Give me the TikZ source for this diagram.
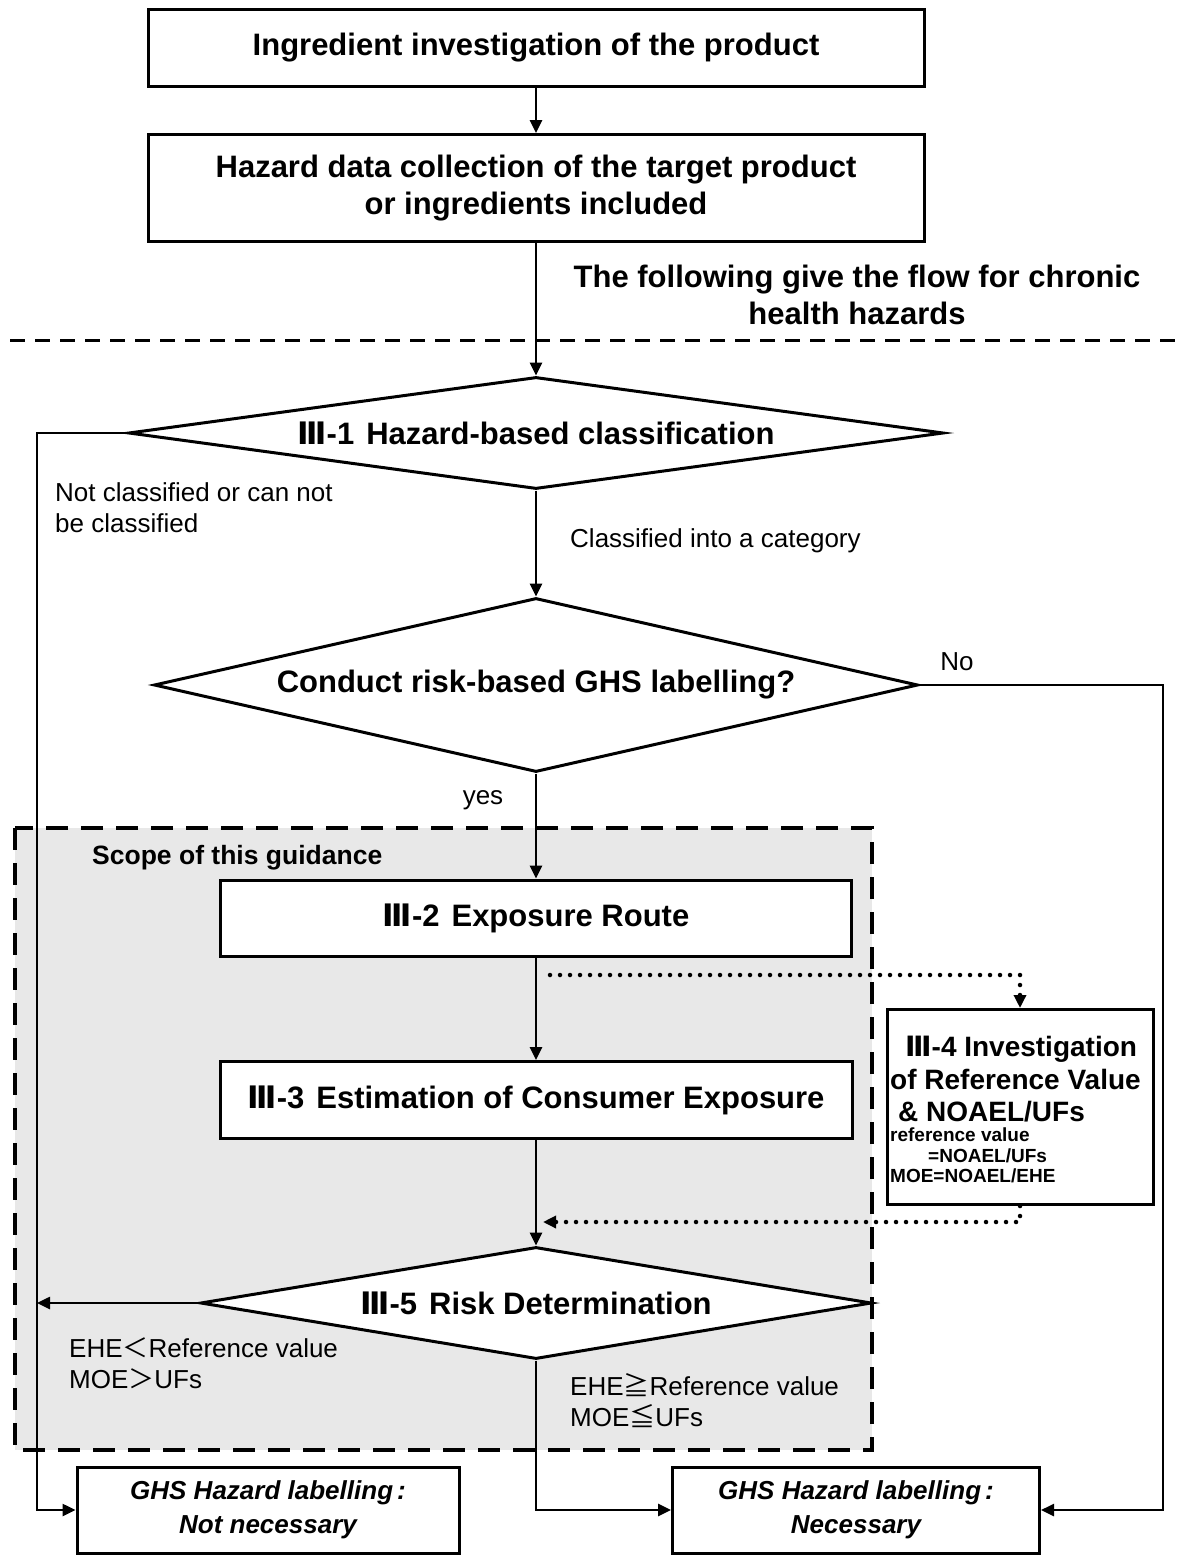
\documentclass[tikz,border=0pt]{standalone}
\usepackage{fontspec}
\setmainfont{Liberation Sans}
\newfontfamily\cjk{Noto Sans CJK JP}
\newfontfamily\numfont{DejaVu Sans}
\usepackage{tikz}
\usetikzlibrary{arrows.meta,shapes.geometric}
\definecolor{scopegray}{RGB}{232,232,232}
\newcommand{\bigfont}{\fontsize{31}{37}\selectfont\bfseries}
\newcommand{\labfont}{\fontsize{26}{31}\selectfont}
\newcommand{\Rnum}{{\numfont Ⅲ}}

\begin{document}
\begin{tikzpicture}[x=1pt, y=-1pt,
  box/.style={draw, line width=3pt, fill=white, inner sep=0pt, align=center, font=\bigfont},
  decision/.style={diamond, draw, line width=3pt, fill=white, inner sep=0pt, font=\bigfont},
  flow/.style={line width=2.6pt, -{Triangle[length=13pt,width=12pt]}},
  dotflow/.style={line width=4.5pt, line cap=round, dash pattern=on 0pt off 10pt, -{Triangle[length=13pt,width=12pt]}},
  lbl/.style={font=\labfont, align=left, inner sep=0pt}]
\useasboundingbox (0,0) rectangle (1184,1555);

% Scope of the guidance (grey area)
\fill[scopegray] (15,828) rectangle (872,1450);
\draw[line width=4.5pt, dash pattern=on 22pt off 13pt] (15,828) rectangle (872,1450);
\node[lbl, anchor=west, font=\fontsize{26.5}{31}\selectfont\bfseries] (scopetxt) at (92,858) {Scope of this guidance};

% Data collection
\node[box, minimum width=776, minimum height=76] (ingr) at (536,48) {Ingredient investigation of the product};
\node[box, minimum width=776, minimum height=107] (hazdata) at (536,188) {Hazard data collection of the target product\\or ingredients included};
\node[font=\bigfont, align=center, inner sep=0pt] (chronic) at (857,295) {The following give the flow for chronic\\health hazards};
\draw[line width=3pt, dash pattern=on 15pt off 10pt] (10,340) -- (1184,340);

% Classification and decision
\node[decision, minimum width=815, minimum height=112, aspect=7.3] (hazcls) at (536,433) {\Rnum-1\hspace{12pt}Hazard-based classification};
\node[decision, minimum width=764, minimum height=174, aspect=4.4] (riskq) at (536,685) {Conduct risk-based GHS labelling?};

% Exposure steps
\node[box, minimum width=631, minimum height=76] (route) at (536,918) {\Rnum-2\hspace{12pt}Exposure Route};
\node[box, minimum width=632, minimum height=77] (estim) at (536,1100) {\Rnum-3\hspace{12pt}Estimation of Consumer Exposure};
\node[box, minimum width=266, minimum height=195] (refval) at (1020,1107) {};
\node[anchor=north west, align=left, inner sep=0pt, font=\fontsize{28}{32.5}\selectfont\bfseries] (refvaltxt) at (890,1036) {\hspace*{15pt}\Rnum-4 Investigation\\of Reference Value\\\hspace*{8pt}\& NOAEL/UFs};
\node[anchor=north west, align=left, inner sep=0pt, font=\fontsize{19}{20.5}\selectfont\bfseries] (refvalsm) at (890,1128) {reference value\\\hspace*{38pt}=NOAEL/UFs\\MOE=NOAEL/EHE};
\node[decision, minimum width=671, minimum height=112, aspect=6] (riskdet) at (536,1303) {\Rnum-5\hspace{12pt}Risk Determination};

% Results
\node[box, font=\fontsize{26}{34}\selectfont\bfseries\itshape, minimum width=382, minimum height=86] (notnec) at (268,1510) {GHS Hazard labelling\hspace{4pt}:\\Not necessary};
\node[box, font=\fontsize{26}{34}\selectfont\bfseries\itshape, minimum width=367, minimum height=86] (nec) at (856,1510) {GHS Hazard labelling\hspace{4pt}:\\Necessary};

% Branch labels
\node[lbl, anchor=west] (notcls) at (55,508) {Not classified or can not\\be classified};
\node[lbl, anchor=west] (clsinto) at (570,541) {Classified into a category};
\node[lbl] (no) at (957,662) {No};
\node[lbl] (yes) at (483,800) {yes};
\node[lbl, anchor=west] (lowrisk) at (69,1363) {EHE{\cjk ＜}Reference value\\MOE{\cjk ＞}UFs};
\node[lbl, anchor=west] (highrisk) at (570,1401) {EHE{\cjk ≧}Reference value\\MOE{\cjk ≦}UFs};

% Connectors
\coordinate (leftrail) at (37,433);
\coordinate (rightrail) at (1163,685);
\coordinate (dotstart) at (550,975);
\coordinate (dotend) at (543,1222);
\draw[flow] (ingr) -- (hazdata);
\draw[flow] (hazdata.south) -- (hazcls.north);
\draw[flow] (hazcls.south) -- (riskq.north);
\draw[flow] (riskq.south) -- (route.north);
\draw[flow] (route.south) -- (estim.north);
\draw[flow] (estim.south) -- (riskdet.north);
\draw[flow] (hazcls.west) -- (leftrail) |- (notnec.west);
\draw[flow] (riskq.east) -- (rightrail) |- (nec.east);
\draw[flow] (riskdet.west) -- (leftrail |- riskdet.west);
\draw[flow] (riskdet.south) |- (nec.west);
\draw[dotflow] (dotstart) -| (refval.north);
\draw[dotflow] (refval.south) |- (dotend);
\end{tikzpicture}
\end{document}
